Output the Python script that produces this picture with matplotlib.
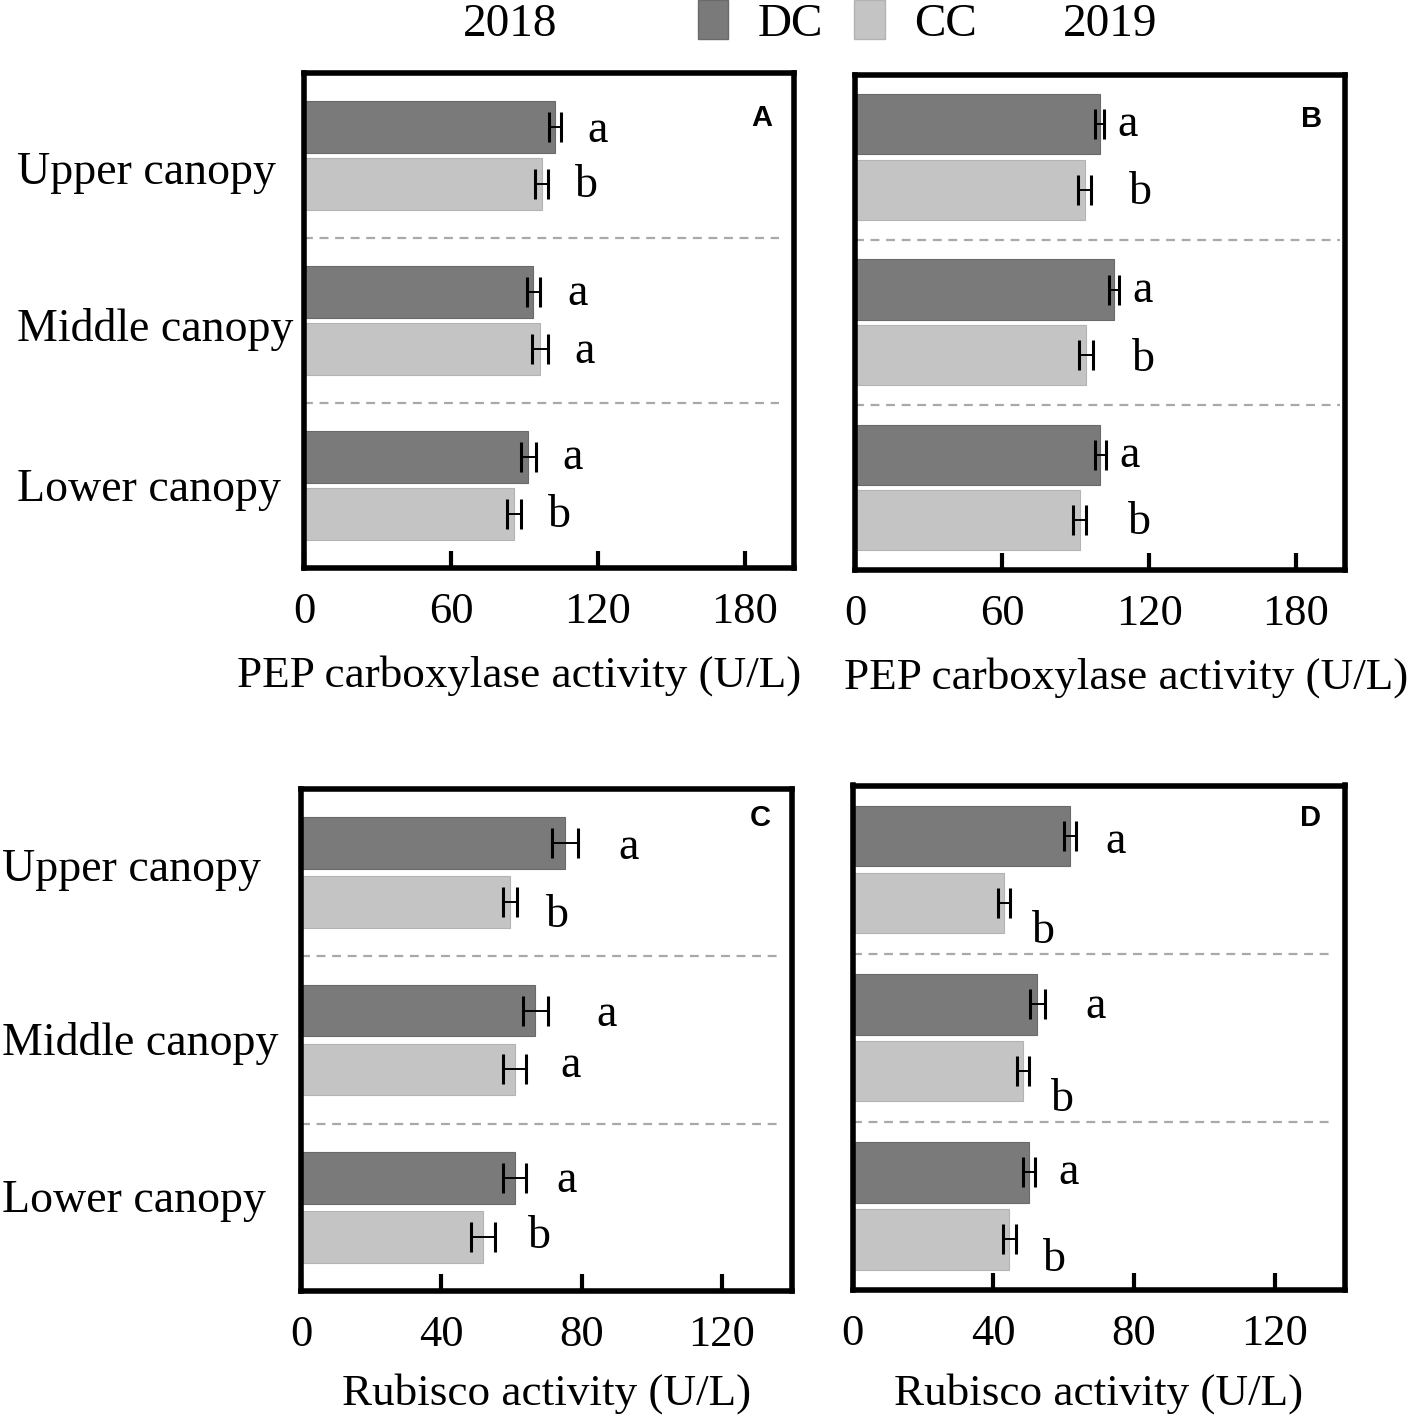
import matplotlib
matplotlib.use("Agg")
import matplotlib.pyplot as plt
from matplotlib.patches import Patch
import numpy as np

plt.rcParams['font.family'] = ['Liberation Serif', 'DejaVu Serif']

canopy = ['Upper canopy', 'Middle canopy', 'Lower canopy']
treatments = ['DC', 'CC']

# PEP carboxylase activity (U/L)
pep_2018_dc = [102.4, 93.6, 91.6]
pep_2018_dc_err = [2.6, 2.6, 2.9]
pep_2018_cc = [97.0, 96.3, 85.7]
pep_2018_cc_err = [2.6, 3.2, 3.0]
pep_2018_sig_dc = ['a', 'a', 'a']
pep_2018_sig_cc = ['b', 'a', 'b']

pep_2019_dc = [99.7, 105.5, 100.1]
pep_2019_dc_err = [1.8, 2.0, 2.2]
pep_2019_cc = [93.6, 94.2, 91.6]
pep_2019_cc_err = [2.6, 2.7, 2.7]
pep_2019_sig_dc = ['a', 'a', 'a']
pep_2019_sig_cc = ['b', 'b', 'b']

# Rubisco activity (U/L)
rub_2018_dc = [75.2, 66.8, 60.9]
rub_2018_dc_err = [3.7, 3.5, 3.2]
rub_2018_cc = [59.7, 60.9, 51.8]
rub_2018_cc_err = [2.0, 3.2, 3.4]
rub_2018_sig_dc = ['a', 'a', 'a']
rub_2018_sig_cc = ['b', 'a', 'b']

rub_2019_dc = [61.9, 52.5, 50.2]
rub_2019_dc_err = [1.75, 2.1, 1.8]
rub_2019_cc = [43.1, 48.6, 44.6]
rub_2019_cc_err = [1.8, 1.7, 1.9]
rub_2019_sig_dc = ['a', 'a', 'a']
rub_2019_sig_cc = ['b', 'b', 'b']

DC_COLOR = '#7a7a7a'
CC_COLOR = '#c4c4c4'

W, H = 1417, 1419
fig = plt.figure(figsize=(W / 100, H / 100), dpi=100)


def px_axes(left, top, right, bottom):
    return fig.add_axes([left / W, 1 - bottom / H, (right - left) / W, (bottom - top) / H])


# per-panel layout: letter offsets (dx, dy) in pixels from bar end / bar centre
panels = [
    dict(box=(304, 73, 794, 568), xmax=200, ticks=[0, 60, 120, 180], half=0.155, off=0.173,
         dc=pep_2018_dc, dce=pep_2018_dc_err, cc=pep_2018_cc, cce=pep_2018_cc_err,
         sdc=pep_2018_sig_dc, scc=pep_2018_sig_cc,
         ldc=[(43, 15), (44, 13), (44, 12.5)], lcc=[(45, 12.5), (44.5, 14), (45, 13)],
         xlabel='PEP carboxylase activity (U/L)', xl=(0.439, -0.24), tag='A', tagpos=(0.935, 0.91),
         cats=(17, [28, 20.5, 16]), dash=0.97),
    dict(box=(855.5, 74.5, 1345, 570), xmax=200, ticks=[0, 60, 120, 180], half=0.182, off=0.198,
         dc=pep_2019_dc, dce=pep_2019_dc_err, cc=pep_2019_cc, cce=pep_2019_cc_err,
         sdc=pep_2019_sig_dc, scc=pep_2019_sig_cc,
         ldc=[(28.5, 12), (29, 12), (29, 12)], lcc=[(56, 14.5), (57, 16.5), (60, 14)],
         xlabel='PEP carboxylase activity (U/L)', xl=(0.552, -0.24), tag='B', tagpos=(0.931, 0.911),
         cats=None, dash=0.99),
    dict(box=(301, 789, 792, 1291), xmax=140, ticks=[0, 40, 80, 120], half=0.155, off=0.176,
         dc=rub_2018_dc, dce=rub_2018_dc_err, cc=rub_2018_cc, cce=rub_2018_cc_err,
         sdc=rub_2018_sig_dc, scc=rub_2018_sig_cc,
         ldc=[(64, 16), (71, 15), (52, 14)], lcc=[(47, 25), (56, 8), (57, 11)],
         xlabel='Rubisco activity (U/L)', xl=(0.501, -0.227), tag='C', tagpos=(0.935, 0.943),
         cats=(2, [8, 15, 5]), dash=0.97),
    dict(box=(852.5, 785.5, 1345, 1290), xmax=140, ticks=[0, 40, 80, 120], half=0.18, off=0.199,
         dc=rub_2019_dc, dce=rub_2019_dc_err, cc=rub_2019_cc, cce=rub_2019_cc_err,
         sdc=rub_2019_sig_dc, scc=rub_2019_sig_cc,
         ldc=[(45, 17), (58, 14), (39, 11.5)], lcc=[(39, 40), (39, 40), (45, 32)],
         xlabel='Rubisco activity (U/L)', xl=(0.5, -0.227), tag='D', tagpos=(0.93, 0.935),
         cats=None, dash=0.97),
]

groups = np.arange(len(canopy))

for p in panels:
    ax = px_axes(*p['box'])
    h = 2 * p['half']
    y_dc = groups - p['off']
    y_cc = groups + p['off']

    ax.barh(y_dc, p['dc'], height=h, color=DC_COLOR, edgecolor='#6a6a6a', linewidth=0.8, zorder=2)
    ax.barh(y_cc, p['cc'], height=h, color=CC_COLOR, edgecolor='#b3b3b3', linewidth=0.8, zorder=2)
    for yy, vals, errs in [(y_dc, p['dc'], p['dce']), (y_cc, p['cc'], p['cce'])]:
        ax.errorbar(vals, yy, xerr=errs, fmt='none', ecolor='black', elinewidth=1.4,
                    capsize=11, capthick=2.2, zorder=3)

    for i in range(len(canopy)):
        for yy, vals, sig, lab in [(y_dc, p['dc'], p['sdc'], p['ldc']),
                                   (y_cc, p['cc'], p['scc'], p['lcc'])]:
            dx, dy = lab[i]
            ax.annotate(sig[i], xy=(vals[i], yy[i]), xytext=(dx, -dy),
                        textcoords='offset pixels', ha='center', va='baseline', fontsize=33)

    for yline in [0.5, 1.5]:
        ax.axhline(yline, xmin=0, xmax=p['dash'], color='#a9a9a9', lw=1.6,
                   linestyle=(0, (4, 3)), zorder=1)

    ax.set_xlim(0, p['xmax'])
    ax.set_ylim(2.5, -0.5)
    ax.set_xticks(p['ticks'])
    ax.set_yticks([])
    ax.tick_params(axis='x', direction='in', length=12, width=3, pad=17, labelsize=32)
    for s in ax.spines.values():
        s.set_linewidth(4)

    ax.set_xlabel(p['xlabel'], fontsize=32.5, va='baseline')
    ax.xaxis.set_label_coords(*p['xl'])

    ax.text(*p['tagpos'], p['tag'], transform=ax.transAxes, ha='center', va='center',
            fontsize=21, fontweight='bold', family='Liberation Sans')

    if p['cats'] is not None:
        xpix, dys = p['cats']
        for i, name in enumerate(canopy):
            ax.annotate(name, xy=(xpix / W, groups[i]), xycoords=('figure fraction', 'data'),
                        xytext=(0, -dys[i]), textcoords='offset pixels',
                        ha='left', va='baseline', fontsize=33, annotation_clip=False)

# top legend
handles = [Patch(facecolor=DC_COLOR, edgecolor='#6a6a6a'),
           Patch(facecolor=CC_COLOR, edgecolor='#b3b3b3')]
fig.legend(handles, treatments, loc='center', bbox_to_anchor=(0.591, 0.984), ncol=2,
           frameon=False, fontsize=34, handlelength=0.65, handleheight=0.92,
           handletextpad=0.63, columnspacing=0.65, borderpad=0, borderaxespad=0)
fig.text(510 / W, 1 - 36 / H, '2018', ha='center', va='baseline', fontsize=34)
fig.text(1110 / W, 1 - 36 / H, '2019', ha='center', va='baseline', fontsize=34)

fig.savefig('out.png', dpi=100)
